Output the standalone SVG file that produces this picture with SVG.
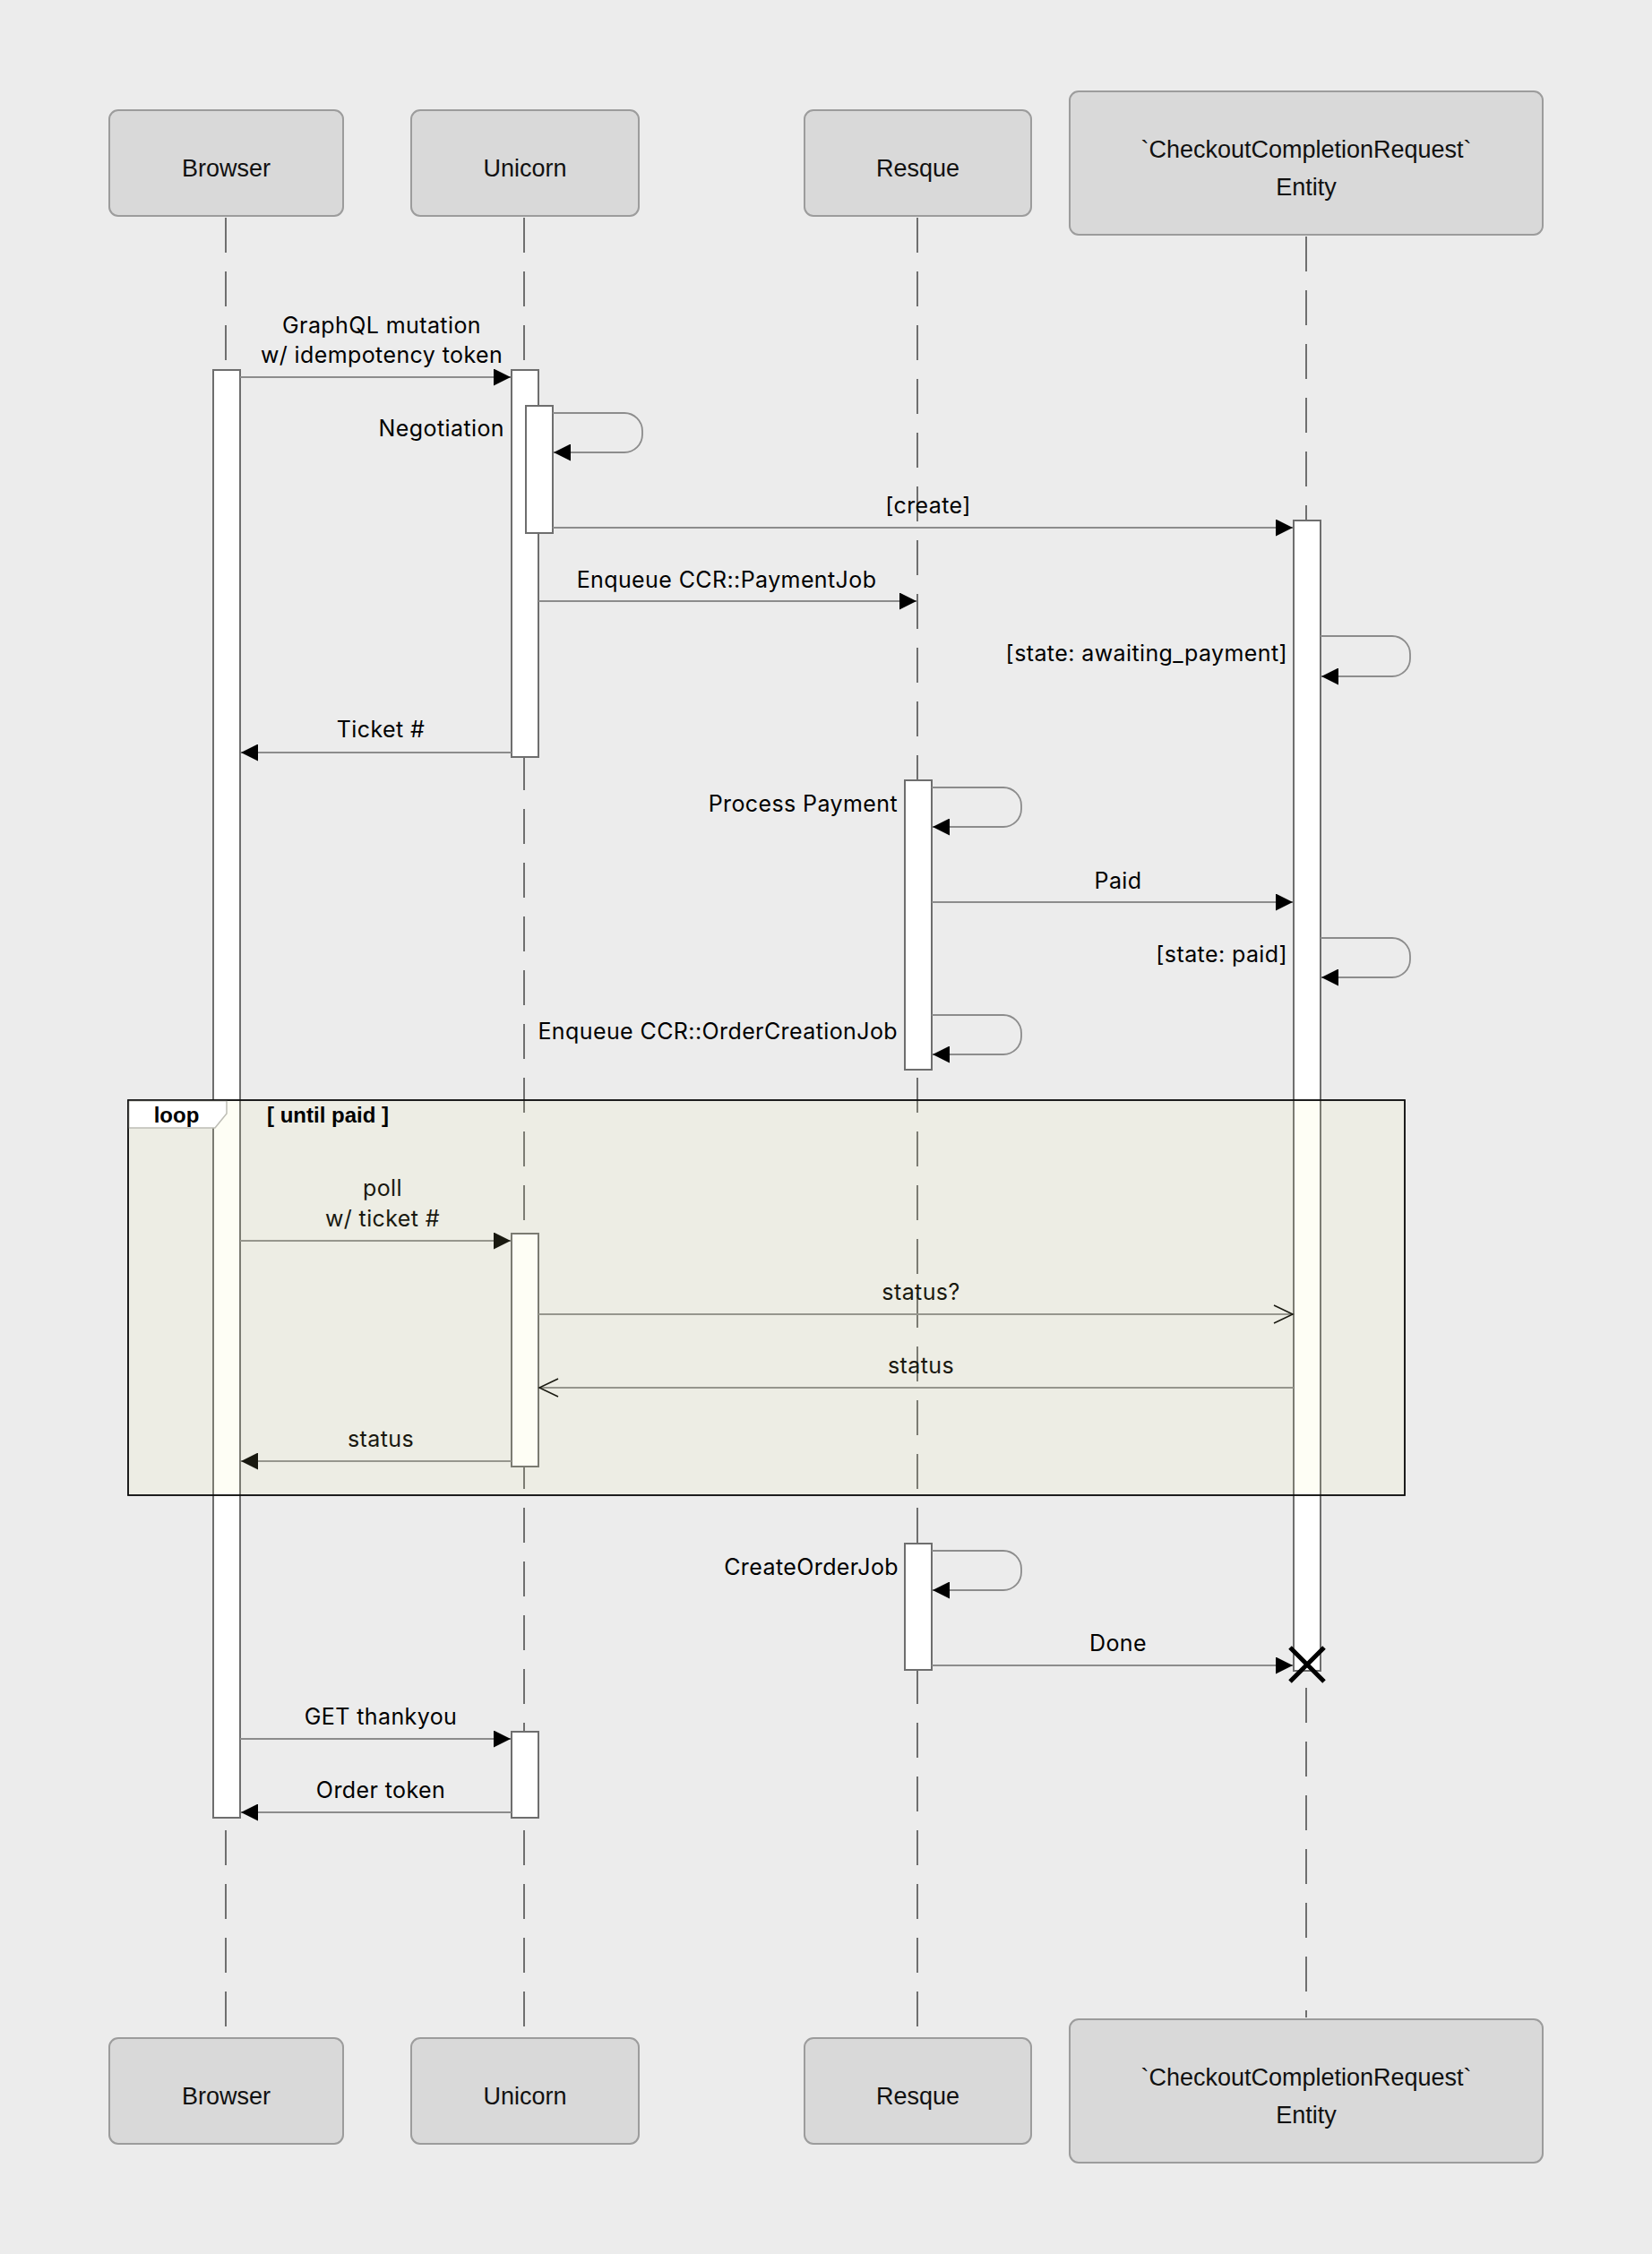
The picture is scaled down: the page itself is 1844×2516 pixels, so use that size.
<svg xmlns="http://www.w3.org/2000/svg" width="1844" height="2516" viewBox="0 0 1844 2516">
<style>
.bg{fill:#ececec}
.box{fill:#d9d9d9;stroke:#9c9c9c;stroke-width:2}
.ptxt{font-family:"Liberation Sans",Arial,sans-serif;font-size:27px;fill:#111;text-anchor:middle}
.life{stroke:#6f6f6f;stroke-width:2;stroke-dasharray:39 21;fill:none}
.act{fill:#fff;stroke:#6e6e6e;stroke-width:2}
.msg{stroke:#8c8c8c;stroke-width:1.8;fill:none}
.mtxt{font-family:Inter,"Liberation Sans",sans-serif;font-size:25px;letter-spacing:0.4px;fill:#000;text-anchor:middle}
.ltxt{font-family:Inter,"Liberation Sans",sans-serif;font-size:25px;letter-spacing:0.4px;fill:#000;text-anchor:end}
.btxt{font-family:"Liberation Sans",Arial,sans-serif;font-size:24px;font-weight:bold;fill:#000}
</style>
<defs>
<marker id="ah" viewBox="0 0 19 19" refX="19" refY="9.5" markerWidth="19" markerHeight="19" markerUnits="userSpaceOnUse" orient="auto"><path d="M0,0 L19,9.5 L0,19 z" fill="#000"/></marker>
<marker id="oh" viewBox="-1 -1 24 23" refX="21" refY="10" markerWidth="24" markerHeight="23" markerUnits="userSpaceOnUse" orient="auto"><path d="M0,0 L21,10 L0,20" fill="none" stroke="#000" stroke-width="1.5"/></marker>
</defs>
<rect class="bg" x="0" y="0" width="1844" height="2516"/>

<g id="lifelines">
<line class="life" x1="252" y1="243" x2="252" y2="2262"/>
<line class="life" x1="585" y1="243" x2="585" y2="2262"/>
<line class="life" x1="1024" y1="243" x2="1024" y2="2262"/>
<line class="life" x1="1458" y1="264" x2="1458" y2="2252"/>
</g>

<g id="participant-browser">
<rect class="box" x="122" y="123" width="261" height="118" rx="10"/>
<text class="ptxt" x="252.5" y="197">Browser</text>
<rect class="box" x="122" y="2275" width="261" height="118" rx="10"/>
<text class="ptxt" x="252.5" y="2349">Browser</text>
</g>
<g id="participant-unicorn">
<rect class="box" x="459" y="123" width="254" height="118" rx="10"/>
<text class="ptxt" x="586" y="197">Unicorn</text>
<rect class="box" x="459" y="2275" width="254" height="118" rx="10"/>
<text class="ptxt" x="586" y="2349">Unicorn</text>
</g>
<g id="participant-resque">
<rect class="box" x="898" y="123" width="253" height="118" rx="10"/>
<text class="ptxt" x="1024.5" y="197">Resque</text>
<rect class="box" x="898" y="2275" width="253" height="118" rx="10"/>
<text class="ptxt" x="1024.5" y="2349">Resque</text>
</g>
<g id="participant-entity">
<rect class="box" x="1194" y="102" width="528" height="160" rx="10"/>
<text class="ptxt" x="1458" y="176">`CheckoutCompletionRequest`</text>
<text class="ptxt" x="1458" y="218">Entity</text>
<rect class="box" x="1194" y="2254" width="528" height="160" rx="10"/>
<text class="ptxt" x="1458" y="2328">`CheckoutCompletionRequest`</text>
<text class="ptxt" x="1458" y="2370">Entity</text>
</g>

<g id="activations">
<rect class="act" x="238" y="413" width="30" height="1616"/>
<rect class="act" x="571" y="413" width="30" height="432"/>
<rect class="act" x="587" y="453" width="30" height="142"/>
<rect class="act" x="1444" y="581" width="30" height="1284"/>
<rect class="act" x="1010" y="871" width="30" height="323"/>
<rect class="act" x="571" y="1377" width="30" height="260"/>
<rect class="act" x="1010" y="1723" width="30" height="141"/>
<rect class="act" x="571" y="1933" width="30" height="96"/>
</g>

<g id="connectors">
<path class="msg" d="M268,421 H570" marker-end="url(#ah)"/>
<path class="msg" d="M617,461 H697 A20,20 0 0 1 717,481 V485 A20,20 0 0 1 697,505 H618" marker-end="url(#ah)"/>
<path class="msg" d="M617,589 H1443" marker-end="url(#ah)"/>
<path class="msg" d="M601,671 H1023" marker-end="url(#ah)"/>
<path class="msg" d="M1474,710 H1554 A20,20 0 0 1 1574,730 V735 A20,20 0 0 1 1554,755 H1475" marker-end="url(#ah)"/>
<path class="msg" d="M571,840 H269" marker-end="url(#ah)"/>
<path class="msg" d="M1040,879 H1120 A20,20 0 0 1 1140,899 V903 A20,20 0 0 1 1120,923 H1041" marker-end="url(#ah)"/>
<path class="msg" d="M1040,1007 H1443" marker-end="url(#ah)"/>
<path class="msg" d="M1474,1047 H1554 A20,20 0 0 1 1574,1067 V1071 A20,20 0 0 1 1554,1091 H1475" marker-end="url(#ah)"/>
<path class="msg" d="M1040,1133 H1120 A20,20 0 0 1 1140,1153 V1157 A20,20 0 0 1 1120,1177 H1041" marker-end="url(#ah)"/>
<path class="msg" d="M268,1385 H570" marker-end="url(#ah)"/>
<path class="msg" d="M601,1467 H1443" marker-end="url(#oh)"/>
<path class="msg" d="M1444,1549 H602" marker-end="url(#oh)"/>
<path class="msg" d="M571,1631 H269" marker-end="url(#ah)"/>
<path class="msg" d="M1040,1731 H1120 A20,20 0 0 1 1140,1751 V1755 A20,20 0 0 1 1120,1775 H1041" marker-end="url(#ah)"/>
<path class="msg" d="M1040,1859 H1443" marker-end="url(#ah)"/>
<path class="msg" d="M268,1941 H570" marker-end="url(#ah)"/>
<path class="msg" d="M571,2023 H269" marker-end="url(#ah)"/>
</g>

<g id="destroy">
<path d="M1440,1839 L1478,1877 M1478,1839 L1440,1877" stroke="#000" stroke-width="5" fill="none"/>
</g>

<g id="labels">
<text class="mtxt" x="426" y="372">GraphQL mutation</text>
<text class="mtxt" x="426" y="405">w/ idempotency token</text>
<text class="ltxt" x="563" y="487">Negotiation</text>
<text class="mtxt" x="1036" y="573">[create]</text>
<text class="mtxt" x="811" y="656">Enqueue CCR::PaymentJob</text>
<text class="ltxt" x="1437" y="738">[state: awaiting_payment]</text>
<text class="mtxt" x="425" y="823">Ticket #</text>
<text class="ltxt" x="1002" y="906">Process Payment</text>
<text class="mtxt" x="1248" y="992">Paid</text>
<text class="ltxt" x="1437" y="1074">[state: paid]</text>
<text class="ltxt" x="1002" y="1160">Enqueue CCR::OrderCreationJob</text>
<text class="mtxt" x="427" y="1335">poll</text>
<text class="mtxt" x="427" y="1369">w/ ticket #</text>
<text class="mtxt" x="1028" y="1451">status?</text>
<text class="mtxt" x="1028" y="1533">status</text>
<text class="mtxt" x="425" y="1615">status</text>
<text class="ltxt" x="1003" y="1758">CreateOrderJob</text>
<text class="mtxt" x="1248" y="1843">Done</text>
<text class="mtxt" x="425" y="1925">GET thankyou</text>
<text class="mtxt" x="425" y="2007">Order token</text>
</g>

<g id="loop-fragment">
<rect x="143" y="1228" width="1425" height="441" fill="rgb(242,242,160)" fill-opacity="0.1" stroke="#111" stroke-width="1.5"/>
<path d="M143.75,1228.75 H253 V1243 L240,1259 H143.75 Z" fill="#fff" stroke="#bdbdb5" stroke-width="1.5"/>
<rect x="143" y="1228" width="1425" height="441" fill="none" stroke="#111" stroke-width="1.5"/>
<text class="btxt" x="197" y="1253" text-anchor="middle">loop</text>
<text class="btxt" x="298" y="1253">[ until paid ]</text>
</g>
</svg>
